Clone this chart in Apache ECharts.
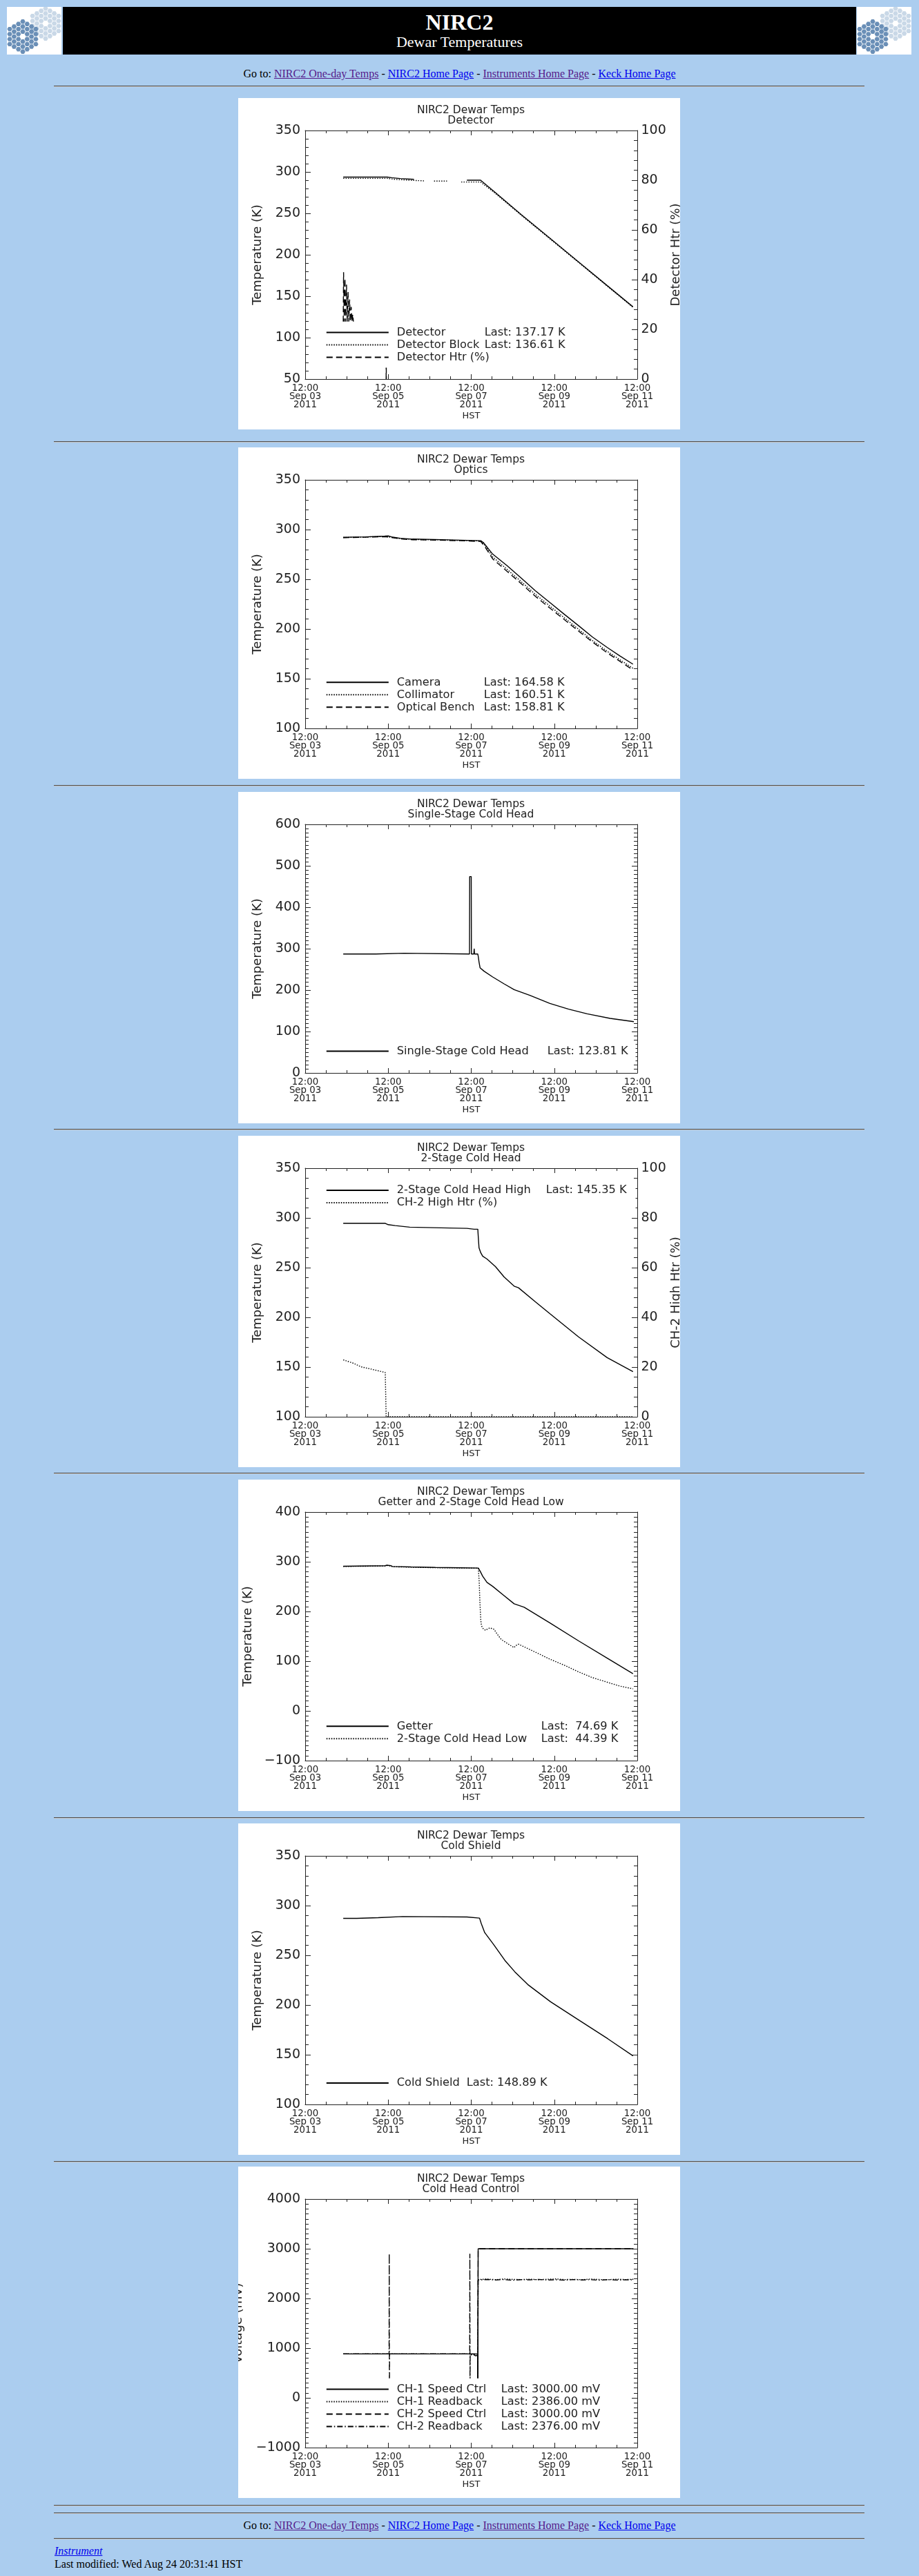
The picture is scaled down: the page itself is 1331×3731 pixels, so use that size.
<!DOCTYPE html>
<html><head><meta charset="utf-8">
<script src="https://cdn.jsdelivr.net/npm/echarts@6/dist/echarts.min.js"></script>
<style>
html,body{margin:0;padding:0;}
body{background:#abcdef;width:1331px;height:3731px;position:relative;overflow:hidden;font-family:"Liberation Serif","Times New Roman",serif;}
.hr{position:absolute;left:78px;width:1174px;height:0;border-top:1px solid #4e4e4e;border-bottom:1px solid #c4c4c4;}
.chart{position:absolute;left:345px;width:640px;height:480px;background:#fff;}
.nav{position:absolute;left:0;width:1331px;text-align:center;font-size:16px;line-height:16px;color:#000;white-space:nowrap;}
.nav a.v{color:#551a8b;} .nav a.b{color:#0000ee;}
.logo{position:absolute;top:10px;width:79px;height:69px;background:#fff;}
.banner{position:absolute;left:91px;top:10px;width:1149px;height:69px;background:#000;}
.bt{position:absolute;left:91px;width:1149px;text-align:center;color:#fff;white-space:nowrap;}
</style></head>
<body>
<svg class="logo" id="logoL" style="left:10px" viewBox="0 0 79 69"></svg>
<div class="banner"></div>
<svg class="logo" id="logoR" style="left:1241px" viewBox="0 0 79 69"></svg>
<div class="bt" style="top:16px;font-size:32px;line-height:32px;font-weight:bold;">NIRC2</div>
<div class="bt" style="top:50px;font-size:22px;line-height:22px;">Dewar Temperatures</div>
<div class="nav" style="top:99px;">Go to: <a class="v" href="#">NIRC2 One-day Temps</a> - <a class="b" href="#">NIRC2 Home Page</a> - <a class="v" href="#">Instruments Home Page</a> - <a class="b" href="#">Keck Home Page</a></div>
<div class="hr" style="top:124px"></div>
<div class="chart" id="c1" style="top:142px"></div>
<div class="hr" style="top:639px"></div>
<div class="chart" id="c2" style="top:648px"></div>
<div class="hr" style="top:1137px"></div>
<div class="chart" id="c3" style="top:1147px"></div>
<div class="hr" style="top:1635px"></div>
<div class="chart" id="c4" style="top:1645px"></div>
<div class="hr" style="top:2133px"></div>
<div class="chart" id="c5" style="top:2143px"></div>
<div class="hr" style="top:2632px"></div>
<div class="chart" id="c6" style="top:2641px"></div>
<div class="hr" style="top:3130px"></div>
<div class="chart" id="c7" style="top:3138px"></div>
<div class="hr" style="top:3628px"></div>
<div class="hr" style="top:3639px"></div>
<div class="nav" style="top:3650px;">Go to: <a class="v" href="#">NIRC2 One-day Temps</a> - <a class="b" href="#">NIRC2 Home Page</a> - <a class="v" href="#">Instruments Home Page</a> - <a class="b" href="#">Keck Home Page</a></div>
<div class="hr" style="top:3676px"></div>
<div style="position:absolute;left:79px;top:3687px;font-size:16px;line-height:16px;font-style:italic;"><a href="#" style="color:#0000ee;">Instrument</a></div>
<div style="position:absolute;left:79px;top:3706px;font-size:16px;line-height:16px;white-space:nowrap;">Last modified: Wed Aug 24 20:31:41 HST</div>
<script>
// x values: hours since 2011-09-03 12:00 HST
const xTickLabels = ['12:00\nSep 03\n2011','12:00\nSep 05\n2011','12:00\nSep 07\n2011','12:00\nSep 09\n2011','12:00\nSep 11\n2011'];
const mainTitle = 'NIRC2 Dewar Temps';
const subTitles = ['Detector','Optics','Single-Stage Cold Head','2-Stage Cold Head','Getter and 2-Stage Cold Head Low','Cold Shield','Cold Head Control'];

// Chart 1: Detector
const detector = [[22,293.8],[35,293.8],[47.5,293.8],[50,293],[55,292],[62.9,291],[63,null],[93.5,290],[101.4,290],[110,275],[125,248.3],[141.5,220],[158,191.5],[174.6,162.8],[189.5,137.17]];
const detectorBlock = [[22,292.2],[47.5,292.2],[52,291],[60,290],[68.7,289.2],[68.8,null],[74.5,289],[82,289],[82.1,null],[90.2,287.8],[101.4,287.8],[110,274],[125,247.5],[141.5,219.2],[158,190.8],[174.6,162.2],[189.5,136.61]];
const detectorHtr = [[22,23],[22.2,43],[22.6,23],[23,40.5],[23.4,23],[23.9,38],[24.3,23],[24.8,35],[25.2,23],[25.7,32],[26.1,23],[26.6,29],[27,23],[27.5,26],[27.9,23],[28,null],[46.8,0],[46.85,20],[46.9,0],[47,null]];

// Chart 2: Optics
const camera = [[22,292.3],[35,292.6],[46,293.4],[48,293.6],[50,292.6],[55,291.2],[62,290.4],[75,290],[90,289.3],[101.5,288.8],[103,287],[108.4,275.3],[116.7,263.7],[125,251],[133,238.5],[141.5,226.6],[150,214.5],[158,203.4],[166,192],[174.6,181.4],[182,172.8],[189.5,164.58]];
const collimator = [[22,292],[46,293],[50,292.2],[55,290.8],[62,290],[75,289.6],[90,289],[101.5,288.5],[104,284],[108.4,272.5],[116.7,260],[125,247.5],[133,235],[141.5,223],[150,211],[158,199.8],[166,188.5],[174.6,177.6],[182,169],[189.5,160.51]];
const opticalBench = [[22,291.8],[46,292.8],[50,292],[55,290.6],[62,289.8],[75,289.4],[90,288.8],[101.5,288],[104,282.5],[108.4,270.5],[116.7,258],[125,245.5],[133,233],[141.5,221],[150,209.2],[158,198],[166,187],[174.6,176],[182,167.5],[189.5,158.81]];

// Chart 3: Single-Stage Cold Head
const singleStage = [[22,287],[40.9,287],[40.9,289],[57.1,289],[57.1,287],[95.0,287],[95.1,474],[96.0,474],[96.1,287],[97.5,287],[97.7,300],[97.9,287],[99.8,287],[100.1,280],[100.5,267.8],[101.1,253.9],[103.4,245.6],[108.4,231.7],[115,215],[120.8,201],[129.9,187.2],[141.5,167.8],[152.3,153.9],[163,142.8],[176.3,131.7],[190,123.81]];

// Chart 4: 2-Stage Cold Head
const twoStageHigh = [[22,294.6],[46.3,294.6],[48,293.2],[52.1,292.3],[60.4,290.7],[78.6,290],[93.5,289.5],[97.7,288.6],[99.8,288.6],[100.1,280],[100.5,270],[101.5,265],[102.6,261.5],[105.1,258.7],[110,251],[115,240.6],[120.8,231.4],[123.3,229.8],[133.2,215.5],[141.5,203.6],[158,180.4],[174.6,159.5],[189.5,145.35]];
const ch2HighHtr = [[22,22.9],[28,21.5],[32.3,20.1],[38,19.2],[46.3,17.8],[46.8,17.8],[46.8,0],[189.5,0]];

// Chart 5: Getter and 2-Stage Cold Head Low
const getter = [[22,291],[46.3,292],[47.2,293],[49.7,292],[50.5,290.5],[61.2,289.5],[75.3,288.5],[90,287.8],[100.1,287.3],[101.3,280],[102.6,271],[105.1,258.5],[108.4,250.5],[114.2,234],[120.8,215.4],[126.6,208.4],[141.5,177],[158,141],[174.6,106],[189.5,74.69]];
const twoStageLow = [[22,290.5],[46.3,291.5],[47.2,292.5],[49.7,291.5],[50.5,290],[61.2,289],[75.3,288],[90,287.5],[100.1,287],[100.6,260],[101,220],[101.5,183],[101.9,171.3],[103,165],[104.3,162],[105.1,164],[106.8,167],[109.2,164],[110.9,155],[113.4,143.5],[117.5,134.3],[120.8,127.3],[121.6,131],[123.3,134.2],[133.2,118],[141.5,104],[150,91.6],[158,78.6],[166,67],[174.6,57.7],[182,49.8],[189.5,44.39]];

// Chart 6: Cold Shield
const coldShield = [[22,287.2],[29.8,287.2],[29.8,287.8],[42.2,287.8],[42.2,289],[56.3,289],[56.3,288.5],[93.5,288.5],[93.5,287.6],[100.8,287.4],[101.8,282],[103.8,272.8],[108.8,261.2],[115.4,245],[121.2,233.4],[128.7,220.6],[141.9,203.2],[158.4,184.6],[175,166],[189.5,148.89]];

// Chart 7: Cold Head Control (mV)
const ch1SpeedCtrl = [[22,884],[99.7,884],[99.75,0],[99.9,0],[100,3000],[189.8,3000]];
const ch1Readback = [[22,884],[95.1,884],[95.3,860],[99.7,850],[99.8,0],[100,2380],[105,2390],[110,2378],[115,2392],[120,2384],[125,2380],[130,2388],[135,2376],[140,2386],[145,2392],[150,2380],[155,2384],[160,2378],[165,2390],[170,2382],[175,2376],[180,2388],[185,2380],[189.8,2386]];
const ch2SpeedCtrl = [[22,884],[99.7,884],[99.75,0],[99.9,0],[100,3000],[189.8,3000]];
const ch2Readback = [[22,884],[48.5,884],[48.6,2900],[48.7,0],[48.8,884],[95.1,884],[95.2,2900],[95.3,0],[95.4,880],[96.5,850],[97.5,870],[98.5,845],[99.7,855],[99.8,0],[100,2370],[105,2382],[110,2372],[115,2380],[120,2366],[125,2378],[130,2374],[135,2384],[140,2370],[145,2376],[150,2368],[155,2380],[160,2372],[165,2378],[170,2366],[175,2380],[180,2370],[185,2374],[189.8,2376]];

const FONT = 'DejaVu Sans';
const AX = '#222';
const DASH = {solid:'solid', dot:[1.5,2], dash:[9,5], dashdot:[8,3,1.5,3]};

function fmtY(v){ return v < 0 ? '\u2212' + Math.abs(v) : String(v); }

function yAxisDef(o, pos, showLabels){
  return {type:'value', position:pos, min:o.min, max:o.max, interval:o.int,
    axisLine:{show:true, onZero:false, lineStyle:{color:AX, width:1}},
    axisTick:{show:true, inside:true, length:8, lineStyle:{color:AX}},
    minorTick:{show:true, splitNumber:o.split, length:5, lineStyle:{color:AX}},
    splitLine:{show:false}, minorSplitLine:{show:false},
    axisLabel:{show:showLabels, formatter:fmtY, fontSize:19, color:AX, margin:pos==='left'?7:5.5, fontFamily:FONT},
    name: showLabels ? (o.name||'') : '', nameLocation:'middle', nameGap:o.gap||0, nameMoveOverlap:false,
    nameTextStyle:{fontSize:18, color:AX, fontFamily:FONT}
  };
}
function xAxisDef(pos, show){
  return {type:'value', position:pos, min:0, max:192, interval:48,
    axisLine:{show:true, onZero:false, lineStyle:{color:AX, width:1}},
    axisTick:{show:true, inside:true, length:7, lineStyle:{color:AX}},
    minorTick:{show:true, splitNumber:4, length:4, lineStyle:{color:AX}},
    splitLine:{show:false}, minorSplitLine:{show:false},
    axisLabel:{show:show, formatter:v=>xTickLabels[Math.round(v/48)], fontSize:13.3, lineHeight:11.7, color:AX, margin:8, fontFamily:FONT},
    name: show ? 'HST' : '', nameLocation:'middle', nameGap:47, nameMoveOverlap:false,
    nameTextStyle:{fontSize:13, color:AX, fontFamily:FONT}
  };
}

function build(id, cfg){
  const chart = echarts.init(document.getElementById(id), null, {renderer:'canvas'});
  const yAxes = [yAxisDef(cfg.left, 'left', true)];
  if (cfg.right) yAxes.push(yAxisDef(cfg.right, 'right', true));
  else yAxes.push(yAxisDef(cfg.left, 'right', false));
  const labels = {};
  cfg.series.forEach(s => {
    if (s.unit) {
      const last = s.data[s.data.length-1][1];
      const txt = last.toFixed(2).padStart(s.unit==='mV'?7:6, ' ');
      labels[s.name] = '{s| }{n|' + s.name + '}{v|Last: ' + txt + ' ' + s.unit + '}';
    } else {
      labels[s.name] = '{s| }{m|' + s.name + '}';
    }
  });
  const ts = {fontSize:16.2, color:AX, fontFamily:FONT, lineHeight:18};
  chart.setOption({
    animation:false,
    backgroundColor:'#fff',
    title:{text: mainTitle + '\n' + cfg.sub, left:337, top:10, textAlign:'center', padding:0,
      textStyle:{fontSize:15.5, fontWeight:'normal', color:AX, lineHeight:15, fontFamily:FONT}},
    grid:{left:97, top:47, width:481, height:360, containLabel:false, outerBoundsMode:'none'},
    xAxis:[xAxisDef('bottom', true), xAxisDef('top', false)],
    yAxis:yAxes,
    legend:{data:cfg.series.map(s=>s.name), orient:'vertical', left:119, top:cfg.legendRow - 9 - 6.7,
      padding:[6.7, cfg.padR || 11, 6, 7.8], backgroundColor:'#fff', itemWidth:90, itemHeight:14, itemGap:0,
      selectedMode:false,
      itemStyle:{opacity:0, borderWidth:0},
      textStyle:Object.assign({}, ts, {rich:{
        s:Object.assign({}, ts, {width:7}),
        n:Object.assign({}, ts, {width:cfg.nameW}),
        v:Object.assign({}, ts),
        m:Object.assign({}, ts)
      }}),
      formatter:name=>labels[name]},
    series:cfg.series.map(s=>({type:'line', name:s.name, data:s.data, xAxisIndex:0, yAxisIndex:s.axis||0,
      symbol:'none', showSymbol:false, connectNulls:false, smooth:false, z:2,
      lineStyle:{color:'#000', width:1.4, type:DASH[s.dash]}, itemStyle:{color:'#000'}, emphasis:{disabled:true}}))
  });
}

build('c1', {sub:subTitles[0], left:{min:50,max:350,int:50,split:5,name:'Temperature (K)',gap:60},
  right:{min:0,max:100,int:20,split:5,name:'Detector Htr (%)',gap:47}, legendRow:339.4, nameW:127,
  series:[{name:'Detector',data:detector,dash:'solid',unit:'K'},
          {name:'Detector Block',data:detectorBlock,dash:'dot',unit:'K'},
          {name:'Detector Htr (%)',data:detectorHtr,dash:'dash',axis:1}]});
build('c2', {sub:subTitles[1], left:{min:100,max:350,int:50,split:5,name:'Temperature (K)',gap:60},
  legendRow:340.3, nameW:126,
  series:[{name:'Camera',data:camera,dash:'solid',unit:'K'},
          {name:'Collimator',data:collimator,dash:'dot',unit:'K'},
          {name:'Optical Bench',data:opticalBench,dash:'dash',unit:'K'}]});
build('c3', {sub:subTitles[2], left:{min:0,max:600,int:100,split:10,name:'Temperature (K)',gap:60},
  legendRow:375.6, nameW:218,
  series:[{name:'Single-Stage Cold Head',data:singleStage,dash:'solid',unit:'K'}]});
build('c4', {sub:subTitles[3], left:{min:100,max:350,int:50,split:5,name:'Temperature (K)',gap:60},
  right:{min:0,max:100,int:20,split:5,name:'CH-2 High Htr (%)',gap:47}, legendRow:79, nameW:216, padR:13,
  series:[{name:'2-Stage Cold Head High',data:twoStageHigh,dash:'solid',unit:'K'},
          {name:'CH-2 High Htr (%)',data:ch2HighHtr,dash:'dot',axis:1}]});
build('c5', {sub:subTitles[4], left:{min:-100,max:400,int:100,split:10,name:'Temperature (K)',gap:74},
  legendRow:357.3, nameW:209,
  series:[{name:'Getter',data:getter,dash:'solid',unit:'K'},
          {name:'2-Stage Cold Head Low',data:twoStageLow,dash:'dot',unit:'K'}]});
build('c6', {sub:subTitles[5], left:{min:100,max:350,int:50,split:5,name:'Temperature (K)',gap:60},
  legendRow:376, nameW:101,
  series:[{name:'Cold Shield',data:coldShield,dash:'solid',unit:'K'}]});
build('c7', {sub:subTitles[6], left:{min:-1000,max:4000,int:1000,split:10,name:'Voltage (mV)',gap:88},
  legendRow:322.4, nameW:151,
  series:[{name:'CH-1 Speed Ctrl',data:ch1SpeedCtrl,dash:'solid',unit:'mV'},
          {name:'CH-1 Readback',data:ch1Readback,dash:'dot',unit:'mV'},
          {name:'CH-2 Speed Ctrl',data:ch2SpeedCtrl,dash:'dash',unit:'mV'},
          {name:'CH-2 Readback',data:ch2Readback,dash:'dashdot',unit:'mV'}]});

// Keck segmented-mirror logo (decorative)
function drawLogo(svg){
  const clusters = [{cx:56,cy:24,fill:'#c9d8e7'},{cx:23,cy:43,fill:'#6a8fb7'}];
  let s = '';
  for (const c of clusters){
    for (let q=-3;q<=3;q++) for (let r=-3;r<=3;r++){
      if (Math.abs(q+r)>3 || (q===0 && r===0)) continue;
      const x = c.cx + 6.3*q, y = c.cy + 7.27*(r + q/2);
      const pts = [];
      for (let k=0;k<6;k++){ const a=Math.PI/3*k; pts.push((x+3.7*Math.cos(a)).toFixed(2)+','+(y+3.7*Math.sin(a)).toFixed(2)); }
      s += '<polygon points="'+pts.join(' ')+'" fill="'+c.fill+'"/>';
    }
  }
  svg.innerHTML = s;
}
drawLogo(document.getElementById('logoL'));
drawLogo(document.getElementById('logoR'));
</script>
</body></html>
